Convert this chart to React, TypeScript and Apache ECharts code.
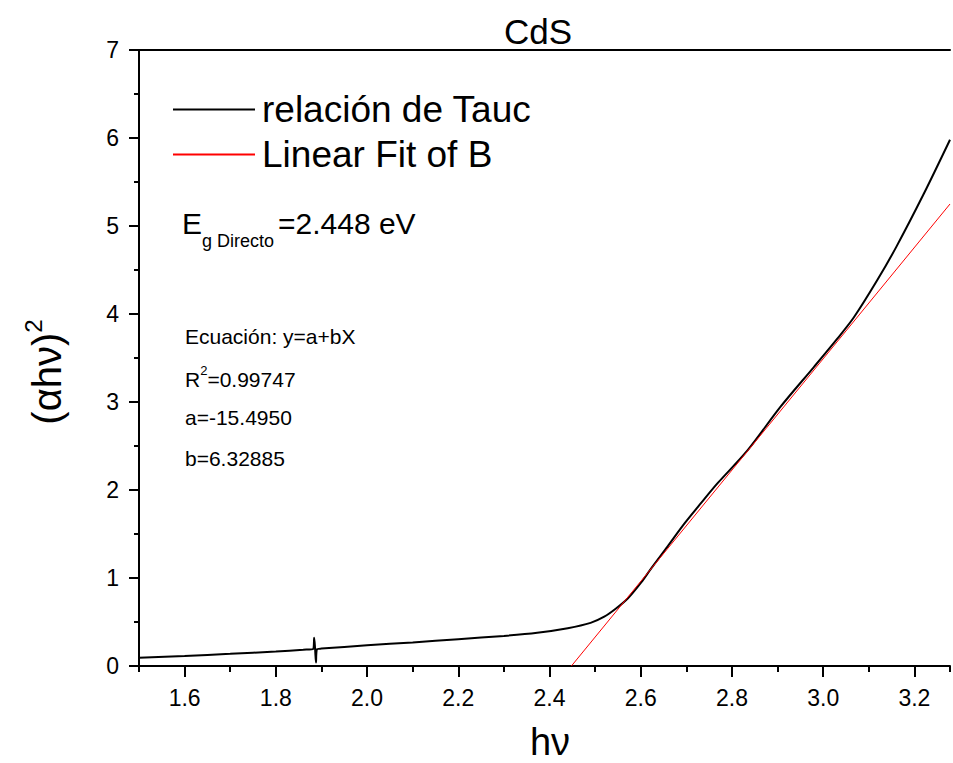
import React, { useEffect, useRef } from "react";
import * as echarts from "echarts";

const TITLE = "CdS";
const X_NAME = "hν";
const SERIES_NAMES = ["relación de Tauc", "Linear Fit of B"];
const X_MIN = 1.5;
const X_MAX = 3.278;
const X_MAJOR = [1.6, 1.8, 2.0, 2.2, 2.4, 2.6, 2.8, 3.0, 3.2];
const Y_MIN = 0;
const Y_MAX = 7;

const TAUC_X = [
  1.5, 1.6, 1.7, 1.8, 1.86, 1.882, 1.884, 1.886, 1.888, 1.89, 1.9, 2.0, 2.1, 2.2, 2.3,
  2.373, 2.44, 2.49, 2.52, 2.545, 2.572, 2.601, 2.623, 2.659, 2.696, 2.732, 2.769,
  2.834, 2.907, 2.98, 3.031, 3.067, 3.118, 3.16, 3.22, 3.278,
];
const TAUC_Y = [
  0.094, 0.115, 0.138, 0.165, 0.185, 0.195, 0.32, 0.2, 0.04, 0.19, 0.198, 0.235, 0.268, 0.305, 0.342,
  0.378, 0.43, 0.49, 0.56, 0.65, 0.77, 0.95, 1.11, 1.36, 1.62, 1.85, 2.08,
  2.45, 2.95, 3.4, 3.72, 3.96, 4.38, 4.76, 5.36, 5.98,
];
const FIT_X = [2.448, 3.278];
const FIT_Y = [0, 5.25];

const EG_MAIN = "E";
const EG_SUB = "g Directo";
const EG_VALUE = "=2.448 eV";
const EQ_LINES = ["Ecuación: y=a+bX", "=0.99747", "a=-15.4950", "b=6.32885"];

const FONT = "'Liberation Sans', Arial, Helvetica, sans-serif";

export default function App() {
  const ref = useRef<HTMLDivElement>(null);
  useEffect(() => {
    if (!ref.current) return;
    const chart = echarts.init(ref.current, null, { renderer: "svg" });
    const tauc = TAUC_X.map((x, i) => [x, TAUC_Y[i]]);
    const fit = FIT_X.map((x, i) => [x, FIT_Y[i]]);

    chart.setOption({
      animation: false,
      backgroundColor: "#ffffff",
      title: {
        text: TITLE,
        left: 533,
        top: 9,
        textAlign: "center",
        textStyle: { fontFamily: FONT, fontSize: 35, fontWeight: "normal", color: "#000" },
      },
      legend: {
        orient: "vertical",
        left: 168,
        top: 86,
        itemWidth: 82,
        itemHeight: 2,
        itemGap: 8,
        icon: "rect",
        textStyle: { fontFamily: FONT, fontSize: 37, color: "#000", padding: [0, 0, 0, 2] },
        data: SERIES_NAMES,
      },
      grid: { left: 139, top: 50, right: 0, bottom: 97, containLabel: false },
      xAxis: [
        {
          type: "value",
          position: "bottom",
          min: X_MIN,
          max: X_MAX,
          interval: 0.1,
          axisLine: { show: true, lineStyle: { color: "#000", width: 2 } },
          axisTick: { show: true, length: 6, lineStyle: { color: "#000", width: 2 } },
          axisLabel: {
            show: true,
            margin: 20,
            fontFamily: FONT,
            fontSize: 23,
            color: "#000",
            formatter: (v: number) => {
              const k = Math.round(v * 10);
              if (Math.abs(v * 10 - k) > 1e-6 || k % 2 !== 0) return "";
              return (k / 10).toFixed(1);
            },
          },
          splitLine: { show: false },
        },
        {
          type: "value",
          position: "bottom",
          min: X_MIN,
          max: X_MAX,
          axisLine: { show: false },
          axisTick: {
            show: true,
            length: 11,
            customValues: X_MAJOR,
            lineStyle: { color: "#000", width: 2 },
          },
          axisLabel: { show: false },
          splitLine: { show: false },
        },
        {
          type: "value",
          position: "top",
          min: X_MIN,
          max: X_MAX,
          axisLine: { show: true, lineStyle: { color: "#000", width: 2 } },
          axisTick: { show: false },
          axisLabel: { show: false },
          splitLine: { show: false },
        },
      ],
      yAxis: {
        type: "value",
        min: Y_MIN,
        max: Y_MAX,
        interval: 1,
        axisLine: { show: true, lineStyle: { color: "#000", width: 2 } },
        axisTick: { show: true, length: 10, lineStyle: { color: "#000", width: 2 } },
        minorTick: { show: true, splitNumber: 2, length: 5, lineStyle: { color: "#000", width: 2 } },
        axisLabel: { margin: 20, fontFamily: FONT, fontSize: 23, color: "#000" },
        splitLine: { show: false },
      },
      series: [
        {
          name: SERIES_NAMES[0],
          type: "line",
          xAxisIndex: 0,
          data: tauc,
          showSymbol: false,
          symbol: "none",
          smooth: 0.3,
          color: "#000000",
          itemStyle: { color: "#000000" },
          lineStyle: { color: "#000000", width: 2 },
          z: 3,
        },
        {
          name: SERIES_NAMES[1],
          type: "line",
          xAxisIndex: 0,
          data: fit,
          showSymbol: false,
          symbol: "none",
          color: "#ff0000",
          itemStyle: { color: "#ff0000" },
          lineStyle: { color: "#ff0000", width: 1 },
          z: 4,
        },
      ],
      graphic: [
        {
          type: "text",
          x: 550,
          y: 742,
          style: {
            text: X_NAME,
            fontFamily: FONT,
            fontSize: 38,
            fill: "#000",
            align: "center",
            verticalAlign: "middle",
          },
        },
        {
          type: "text",
          x: 44,
          y: 372,
          rotation: Math.PI / 2,
          style: {
            text: "{m|(αhν)}{s|2}",
            align: "center",
            verticalAlign: "middle",
            fill: "#000",
            rich: {
              m: { fontFamily: FONT, fontSize: 40, lineHeight: 46, verticalAlign: "bottom", fill: "#000" },
              s: { fontFamily: FONT, fontSize: 24, lineHeight: 26, verticalAlign: "top", fill: "#000" },
            },
          },
        },
        {
          type: "text",
          x: 182,
          y: 223,
          style: { text: EG_MAIN, fontFamily: FONT, fontSize: 30, fill: "#000", verticalAlign: "middle" },
        },
        {
          type: "text",
          x: 202,
          y: 241,
          style: { text: EG_SUB, fontFamily: FONT, fontSize: 18, fill: "#000", verticalAlign: "middle" },
        },
        {
          type: "text",
          x: 278,
          y: 223,
          style: { text: EG_VALUE, fontFamily: FONT, fontSize: 30, fill: "#000", verticalAlign: "middle" },
        },
        {
          type: "text",
          x: 185,
          y: 336,
          style: { text: EQ_LINES[0], fontFamily: FONT, fontSize: 21, fill: "#000", verticalAlign: "middle" },
        },
        {
          type: "text",
          x: 185,
          y: 377,
          style: {
            text: "{m|R}{s|2}{m|" + EQ_LINES[1] + "}",
            verticalAlign: "middle",
            fill: "#000",
            rich: {
              m: { fontFamily: FONT, fontSize: 21, lineHeight: 26, verticalAlign: "bottom", fill: "#000" },
              s: { fontFamily: FONT, fontSize: 13, lineHeight: 14, verticalAlign: "top", fill: "#000" },
            },
          },
        },
        {
          type: "text",
          x: 185,
          y: 417,
          style: { text: EQ_LINES[2], fontFamily: FONT, fontSize: 21, fill: "#000", verticalAlign: "middle" },
        },
        {
          type: "text",
          x: 185,
          y: 458,
          style: { text: EQ_LINES[3], fontFamily: FONT, fontSize: 21, fill: "#000", verticalAlign: "middle" },
        },
      ],
    });
    return () => chart.dispose();
  }, []);

  return (
    <div
      ref={ref}
      style={{ position: "fixed", left: 0, top: 0, width: 953, height: 763, background: "#fff" }}
    />
  );
}
